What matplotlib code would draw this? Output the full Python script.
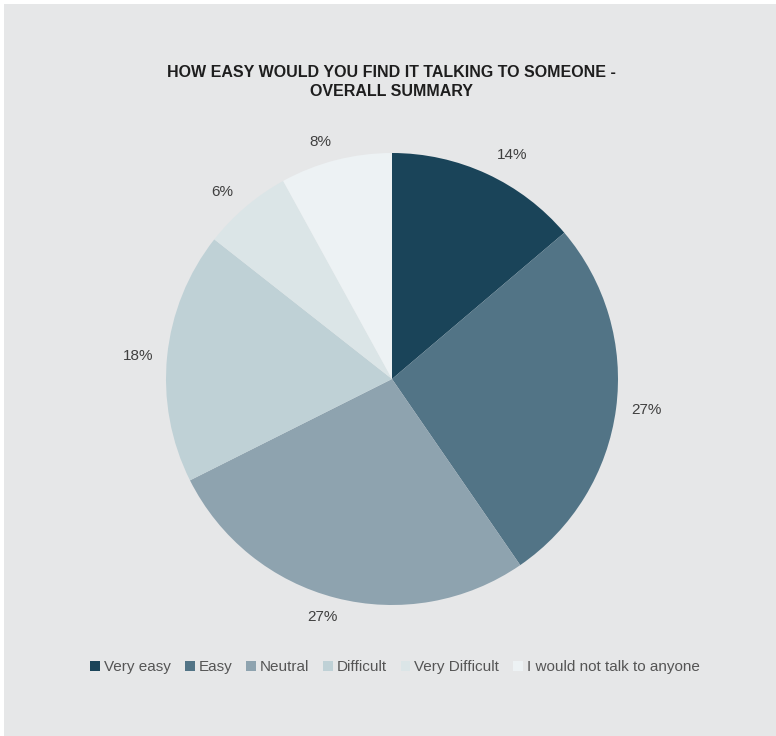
import matplotlib
matplotlib.use("Agg")
from matplotlib import pyplot as plt
from matplotlib.patches import Patch
import numpy as np

categories = ["Very easy", "Easy", "Neutral", "Difficult", "Very Difficult",
              "I would not talk to anyone"]
values = [13.8, 26.6, 27.2, 18.0, 6.4, 8.0]
pct_labels = ["14%", "27%", "27%", "18%", "6%", "8%"]
colors = ["#1a4459", "#527486", "#8ea3af", "#bfd1d6", "#dbe5e7", "#edf2f4"]

# small nudges of the percent labels (pixels, x right / y down)
label_nudge = [(14, 6), (4, -2), (-7, -7), (-2, 2), (-6, 6), (-9, 8)]

sans = ["Liberation Sans Narrow", "Liberation Sans", "DejaVu Sans"]

fig = plt.figure(figsize=(7.76, 7.36), dpi=100)
fig.patch.set_facecolor("white")
bg = fig.add_axes([4 / 776, 0, 772 / 776, 732 / 736], zorder=0)
bg.set_facecolor("#e6e7e8")
bg.set_xticks([])
bg.set_yticks([])
for s in bg.spines.values():
    s.set_visible(False)

# pie centre ~ (392, 379) px, radius ~226 px
r = 226
cx, cy = 392, 736 - 379
ax = fig.add_axes([(cx - r) / 776, (cy - r) / 736, 2 * r / 776, 2 * r / 736], zorder=1)
wedges, _ = ax.pie(values, colors=colors, startangle=90, counterclock=False,
                   wedgeprops=dict(linewidth=0))
for w, lab, (nx, ny) in zip(wedges, pct_labels, label_nudge):
    ang = np.deg2rad((w.theta1 + w.theta2) / 2)
    ax.text(1.12 * np.cos(ang) + nx / r, 1.12 * np.sin(ang) - ny / r, lab,
            ha="center", va="center", fontsize=11, color="#404040",
            family=sans[1:], clip_on=False)
ax.set_xlim(-1, 1)
ax.set_ylim(-1, 1)
ax.set_aspect("equal")

fig.text(0.505, 1 - 82 / 736, "HOW EASY WOULD YOU FIND IT TALKING TO SOMEONE -\nOVERALL SUMMARY",
         ha="center", va="center", fontsize=11.5, fontweight="bold",
         family=sans, color="#1e1e1e", linespacing=1.35, zorder=3)

handles = [Patch(facecolor=c, edgecolor="none") for c in colors]
fig.legend(handles, categories, loc="center", bbox_to_anchor=(395 / 776, 1 - 667 / 736),
           ncol=6, frameon=False, handlelength=0.65, handleheight=0.65,
           handletextpad=0.25, columnspacing=0.9,
           prop=dict(family=sans, size=11),
           labelcolor="#555555")

fig.savefig("out.png", dpi=100)
